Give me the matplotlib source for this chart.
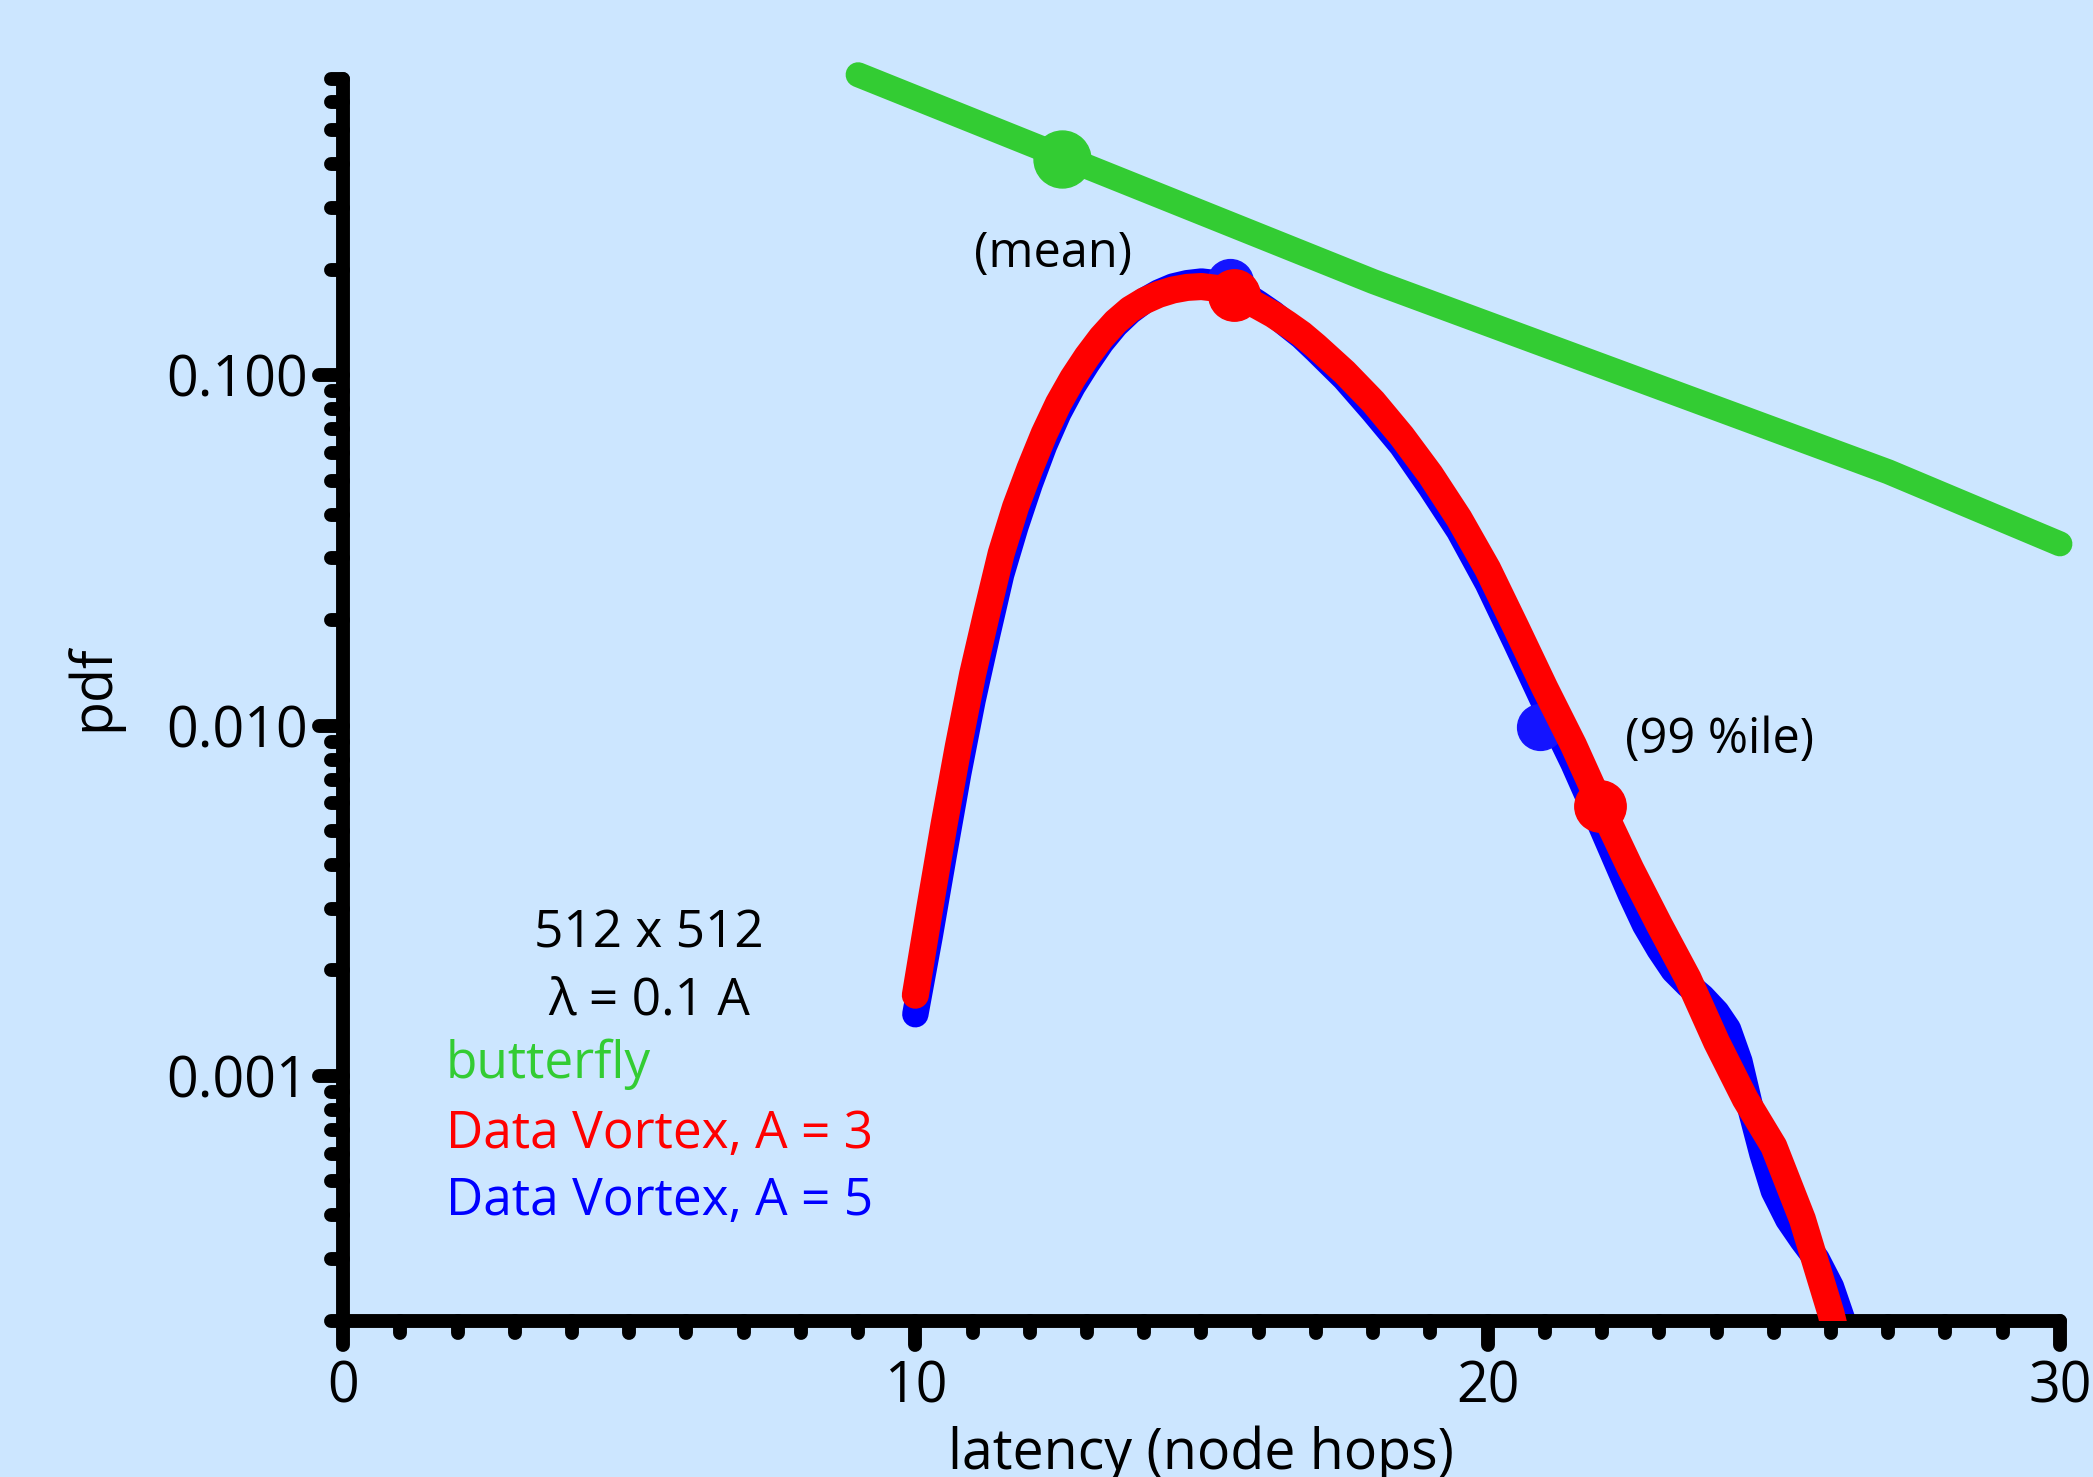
import matplotlib
matplotlib.use("Agg")
import matplotlib.pyplot as plt
import numpy as np
from matplotlib.markers import MarkerStyle
from matplotlib.ticker import MultipleLocator, LogLocator, NullFormatter, FuncFormatter

plt.rcParams['font.family'] = ['Open Sans', 'DejaVu Sans']

# ---- data ----
# butterfly (green)
bf_x = [9, 18, 27, 30]
bf_y = [0.72, 0.185, 0.053, 0.033]
bf_mean = (12.57, 0.414)

# Data Vortex, A = 3 (red)
dv3_x = [10.0, 10.25, 10.5, 10.75, 11.0, 11.25, 11.5, 11.75, 12.0, 12.25, 12.5, 12.75,
         13.0, 13.25, 13.5, 13.75, 14.0, 14.25, 14.5, 14.75, 15.0, 15.25, 15.5, 15.75,
         16.0, 16.25, 16.5, 16.75, 17.0, 17.5, 18.0, 18.5, 19.0, 19.5, 20.0, 20.5,
         21.0, 21.5, 22.0, 22.5, 23.0, 23.5, 24.0, 24.5, 25.0, 25.5, 26.0, 26.1]
dv3_y = [0.0017, 0.0030, 0.0052, 0.0087, 0.0140, 0.021, 0.031, 0.042, 0.054, 0.068,
         0.083, 0.098, 0.113, 0.128, 0.142, 0.154, 0.163, 0.170, 0.175, 0.178, 0.179,
         0.177, 0.171, 0.165, 0.157, 0.149, 0.140, 0.131, 0.121, 0.102, 0.084, 0.067,
         0.052, 0.039, 0.028, 0.019, 0.0128, 0.0088, 0.0058, 0.0039, 0.0027, 0.0019,
         0.00125, 0.00086, 0.00063, 0.00039, 0.00021, 0.00018]
dv3_mean = (15.56, 0.169)
dv3_p99 = (21.96, 0.0059)

# Data Vortex, A = 5 (blue)
dv5_x = [10.0, 10.25, 10.5, 10.75, 11.0, 11.25, 11.5, 11.75, 12.0, 12.25, 12.5, 12.75,
         13.0, 13.25, 13.5, 13.75, 14.0, 14.25, 14.5, 14.75, 15.0, 15.25, 15.5, 15.75,
         16.0, 16.25, 16.5, 16.75, 17.0, 17.5, 18.0, 18.5, 19.0, 19.5, 20.0, 20.5,
         21.0, 21.5, 22.0, 22.5, 22.75, 23.0, 23.25, 23.5, 23.75, 24.0, 24.2, 24.4,
         24.6, 24.8, 25.0, 25.25, 25.5, 25.75, 26.0, 26.3]
dv5_y = [0.0015, 0.0025, 0.0043, 0.0073, 0.0118, 0.0180, 0.027, 0.037, 0.049, 0.063,
         0.078, 0.093, 0.108, 0.124, 0.139, 0.152, 0.163, 0.172, 0.179, 0.183, 0.185,
         0.183, 0.178, 0.170, 0.160, 0.150, 0.139, 0.129, 0.118, 0.098, 0.079, 0.063,
         0.048, 0.036, 0.0255, 0.0172, 0.0115, 0.0078, 0.0051, 0.0033, 0.0027, 0.0023,
         0.0020, 0.00182, 0.00168, 0.00152, 0.00136, 0.00110, 0.00080, 0.00060, 0.00047,
         0.00039, 0.00034, 0.00030, 0.00025, 0.00018]
dv5_mean = (15.5, 0.184)
dv5_p99 = (20.92, 0.0099)

x_ticks = [0, 10, 20, 30]
y_ticks = [0.001, 0.01, 0.1]

bg = '#cce6ff'
green = '#33cc33'
red = '#ff0000'
blue = '#0000ff'

fig = plt.figure(figsize=(20.93, 14.77), dpi=100, facecolor=bg)
ax = fig.add_axes([0.1639, 0.1057, 0.8203, 0.8408])
ax.set_facecolor(bg)

ax.plot(dv5_x, dv5_y, color=blue, lw=19, solid_capstyle='round', zorder=2)
ax.plot(*dv5_mean, 'o', color='#1414ff', ms=33, zorder=3)
ax.plot(*dv5_p99, 'o', color='#1414ff', ms=33, zorder=3)
ax.plot(dv3_x, dv3_y, color=red, lw=19.5, solid_capstyle='round', zorder=4)
ax.plot(*dv3_mean, 'o', color=red, ms=37, zorder=5)
ax.plot(*dv3_p99, 'o', color=red, ms=37, zorder=5)
ax.plot(bf_x, bf_y, color=green, lw=18, solid_capstyle='round', zorder=6, clip_on=False)
ax.plot(*bf_mean, 'o', color=green, ms=41, zorder=7)

ax.set_yscale('log')
ax.set_xlim(0, 30)
ax.set_ylim(0.0002, 0.7)

ax.set_xticks(x_ticks)
ax.xaxis.set_minor_locator(MultipleLocator(1))
ax.set_yticks(y_ticks)
ax.yaxis.set_major_formatter(FuncFormatter(lambda v, p: f"{v:.3f}"))
ax.yaxis.set_minor_locator(LogLocator(base=10, subs=np.arange(2, 10)))
ax.yaxis.set_minor_formatter(NullFormatter())

for s in ['top', 'right']:
    ax.spines[s].set_visible(False)
for s in ['left', 'bottom']:
    ax.spines[s].set_linewidth(10)
    ax.spines[s].set_capstyle('round')

ax.tick_params(which='major', length=17, width=10, color='black', labelsize=40)
ax.tick_params(which='minor', length=8.5, width=10, color='black')
ax.tick_params(axis='x', which='major', pad=11)
ax.tick_params(axis='y', which='major', pad=8)

ax.set_xlabel('latency (node hops)', fontsize=40)
ax.xaxis.set_label_coords(0.5, -0.084)
ax.set_ylabel('pdf', fontsize=40)
ax.yaxis.set_label_coords(-0.1287, 0.51)

ax.text(12.41, 0.204, '(mean)', fontsize=35, ha='center', va='baseline')
ax.text(24.05, 0.00834, '(99 %ile)', fontsize=35, ha='center', va='baseline')

ax.text(5.35, 0.00232, '512 x 512', fontsize=37, ha='center', va='baseline')
ax.text(5.35, 0.0015, '\u03bb = 0.1 A', fontsize=37, ha='center', va='baseline')
ax.text(1.80, 0.000984, 'butterfly', fontsize=37, color=green, ha='left', va='baseline')
ax.text(1.80, 0.000622, 'Data Vortex, A = 3', fontsize=37, color=red, ha='left', va='baseline')
ax.text(1.80, 0.000402, 'Data Vortex, A = 5', fontsize=37, color=blue, ha='left', va='baseline')

# rounded tick ends, like the original
fig.canvas.draw()
for axis in (ax.xaxis, ax.yaxis):
    for minor in (False, True):
        for line in axis.get_ticklines(minor=minor):
            line.set_marker(MarkerStyle(line.get_marker(), capstyle='round'))

fig.savefig('out.png', dpi=100, facecolor=bg)
